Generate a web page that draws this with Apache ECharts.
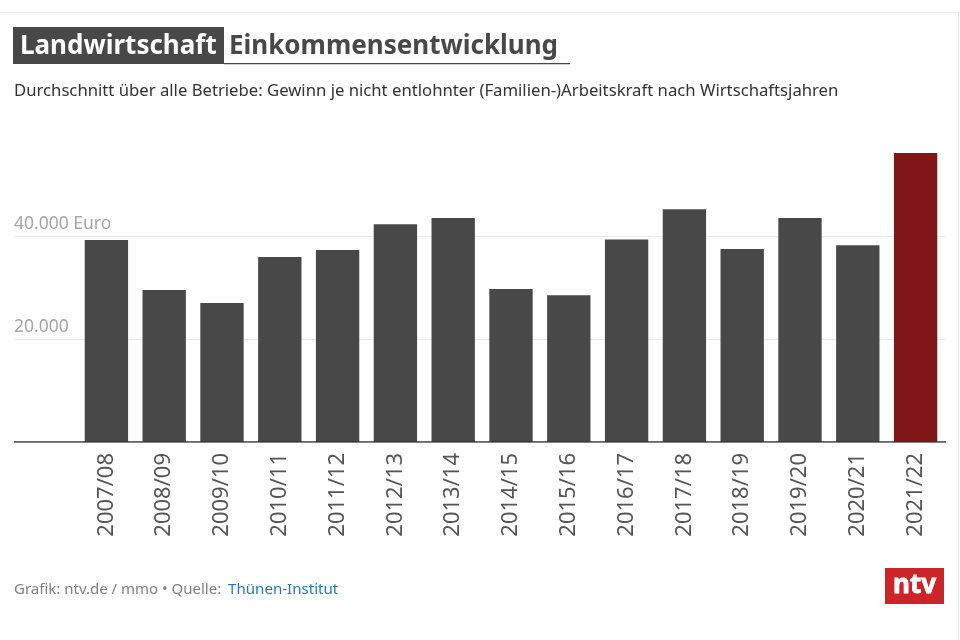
<!DOCTYPE html>
<html><head><meta charset="utf-8"><style>html,body{margin:0;background:#fff}#c{width:960px;height:640px}</style>
<script src="https://cdn.jsdelivr.net/npm/echarts@6/dist/echarts.min.js"></script></head>
<body><div id="c"></div><script>
const categories=['2007/08','2008/09','2009/10','2010/11','2011/12','2012/13','2013/14','2014/15','2015/16','2016/17','2017/18','2018/19','2019/20','2020/21','2021/22'];
const values=[39200,29500,27000,35900,37300,42300,43500,29700,28500,39300,45200,37500,43500,38200,56100];
const yTicks={20000:'20.000',40000:'40.000 Euro'};
const titleTag='Landwirtschaft';
const titleMain='Einkommensentwicklung';
const subtitle='Durchschnitt über alle Betriebe: Gewinn je nicht entlohnter (Familien-)Arbeitskraft nach Wirtschaftsjahren';
const source1='Grafik: ntv.de / mmo • Quelle: ';
const source2='Thünen-Institut';
const F='"Noto Sans",Roboto,sans-serif';
const chart=echarts.init(document.getElementById('c'),null,{renderer:'canvas'});
chart.setOption({
 animation:false,
 grid:[{left:14,right:14,top:133,height:309},{left:77.5,right:15.5,top:133,height:309}],
 xAxis:[
  {gridIndex:0,type:'value',min:0,max:1,show:false},
  {gridIndex:1,type:'category',data:categories,
   axisLine:{show:false},axisTick:{show:false},
   axisLabel:{rotate:90,interval:0,fontFamily:F,fontSize:22,color:'#555',margin:11,padding:[2,0,0,0]}}],
 yAxis:[
  {gridIndex:0,type:'value',min:0,max:60000,interval:20000,
   axisLine:{show:false},axisTick:{show:false},
   splitLine:{showMaxLine:false,lineStyle:{color:'#e8e8e8',width:1}},
   axisLabel:{inside:true,margin:0,verticalAlign:'bottom',padding:[0,0,3,0],fontFamily:F,fontSize:17.5,color:'#a6a6a6',
    formatter:v=>yTicks[v]||''}},
  {gridIndex:1,type:'value',min:0,max:60000,interval:20000,show:false}],
 series:[
  {type:'bar',xAxisIndex:1,yAxisIndex:1,barWidth:'75%',
   data:values.map((v,i)=>({value:v,itemStyle:{color:i===values.length-1?'#7f1718':'#484848'}}))},
  {type:'line',xAxisIndex:0,yAxisIndex:0,z:5,data:[[0,0],[1,0]],showSymbol:false,lineStyle:{color:'#333',width:1.5},silent:true}
 ],
 graphic:[
  {type:'rect',shape:{x:0,y:12,width:960,height:1},style:{fill:'#ececec'}},
  {type:'rect',shape:{x:958,y:12,width:1,height:628},style:{fill:'#ececec'}},
  {type:'rect',shape:{x:13,y:27,width:211,height:37},style:{fill:'#484848'}},
  {type:'rect',shape:{x:224,y:63,width:346,height:1.2},style:{fill:'#484848'}},
  {type:'text',x:20,y:47,style:{text:titleTag,fill:'#fff',font:'bold 26px '+F,verticalAlign:'middle'}},
  {type:'text',x:229,y:47,style:{text:titleMain,fill:'#484848',font:'bold 26px '+F,verticalAlign:'middle'}},
  {type:'text',x:14,y:91,style:{text:subtitle,fill:'#333',font:'16.7px '+F,verticalAlign:'middle'}},
  {type:'text',x:14,y:590,style:{text:source1,fill:'#808080',font:'15px '+F,verticalAlign:'middle'}},
  {type:'text',x:228,y:590,style:{text:source2,fill:'#2b78b8',font:'15.1px '+F,verticalAlign:'middle'}},
  {type:'rect',shape:{x:885,y:568,width:59,height:36},style:{fill:'#cc2529'}},
  {type:'text',x:914.5,y:586,style:{text:'ntv',fill:'#fff',stroke:'#fff',lineWidth:0.8,font:'bold 26px '+F,align:'center',verticalAlign:'middle'}}
 ]
});
</script></body></html>
